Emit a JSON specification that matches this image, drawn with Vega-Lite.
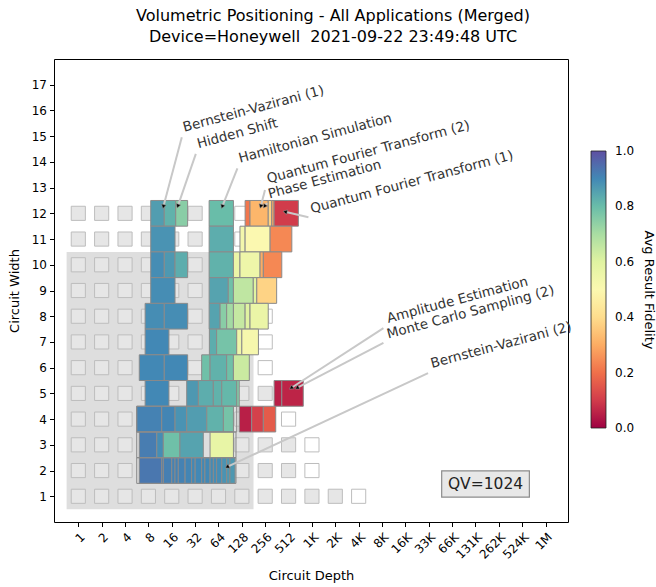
{
  "$schema": "https://vega.github.io/schema/vega-lite/v6.json",
  "width": 514,
  "height": 463,
  "autosize": {"type": "none"},
  "padding": {"left": 54, "top": 59, "right": 88, "bottom": 65},
  "background": "white",
  "config": {
    "font": "DejaVu Sans",
    "view": {"stroke": "#000000", "strokeWidth": 1},
    "scale": {"continuousPadding": 0},
    "axis": {"grid": false, "domain": false, "tickColor": "#000000", "tickSize": 4.5, "labelColor": "#000000", "labelFontSize": 12, "titleFontSize": 13, "titleFontWeight": "normal", "titleColor": "#000000", "labelOverlap": false, "labelFlush": false},
    "legend": {"labelFontSize": 12, "labelColor": "#000000", "titleFontSize": 13, "titleFontWeight": "normal", "titleColor": "#000000"}
  },
  "title": {
    "text": ["Volumetric Positioning - All Applications (Merged)", "Device=Honeywell \u00a02021-09-22 23:49:48 UTC"],
    "fontSize": 16,
    "fontWeight": "normal",
    "color": "#000000",
    "anchor": "middle",
    "dx": 22,
    "offset": 14,
    "lineHeight": 21
  },
  "datasets": {
    "squares": [
      {"d":0,"w":1,"k":"g"},{"d":1,"w":1,"k":"g"},{"d":2,"w":1,"k":"g"},{"d":3,"w":1,"k":"g"},{"d":4,"w":1,"k":"g"},{"d":5,"w":1,"k":"g"},{"d":6,"w":1,"k":"g"},{"d":7,"w":1,"k":"g"},{"d":8,"w":1,"k":"g"},{"d":9,"w":1,"k":"g"},{"d":10,"w":1,"k":"g"},{"d":11,"w":1,"k":"g"},{"d":12,"w":1,"k":"w"},
      {"d":0,"w":2,"k":"g"},{"d":1,"w":2,"k":"g"},{"d":2,"w":2,"k":"g"},{"d":3,"w":2,"k":"g"},{"d":4,"w":2,"k":"g"},{"d":5,"w":2,"k":"g"},{"d":6,"w":2,"k":"g"},{"d":7,"w":2,"k":"g"},{"d":8,"w":2,"k":"g"},{"d":9,"w":2,"k":"g"},{"d":10,"w":2,"k":"w"},
      {"d":0,"w":3,"k":"g"},{"d":1,"w":3,"k":"g"},{"d":2,"w":3,"k":"g"},{"d":3,"w":3,"k":"g"},{"d":4,"w":3,"k":"g"},{"d":5,"w":3,"k":"g"},{"d":6,"w":3,"k":"g"},{"d":7,"w":3,"k":"g"},{"d":8,"w":3,"k":"g"},{"d":9,"w":3,"k":"g"},{"d":10,"w":3,"k":"w"},
      {"d":0,"w":4,"k":"g"},{"d":1,"w":4,"k":"g"},{"d":2,"w":4,"k":"g"},{"d":3,"w":4,"k":"g"},{"d":4,"w":4,"k":"g"},{"d":5,"w":4,"k":"g"},{"d":6,"w":4,"k":"g"},{"d":7,"w":4,"k":"g"},{"d":8,"w":4,"k":"g"},{"d":9,"w":4,"k":"w"},
      {"d":0,"w":5,"k":"g"},{"d":1,"w":5,"k":"g"},{"d":2,"w":5,"k":"g"},{"d":3,"w":5,"k":"g"},{"d":4,"w":5,"k":"g"},{"d":5,"w":5,"k":"g"},{"d":6,"w":5,"k":"g"},{"d":7,"w":5,"k":"g"},{"d":8,"w":5,"k":"g"},{"d":9,"w":5,"k":"w"},
      {"d":0,"w":6,"k":"g"},{"d":1,"w":6,"k":"g"},{"d":2,"w":6,"k":"g"},{"d":3,"w":6,"k":"g"},{"d":4,"w":6,"k":"g"},{"d":5,"w":6,"k":"g"},{"d":6,"w":6,"k":"g"},{"d":7,"w":6,"k":"g"},{"d":8,"w":6,"k":"w"},
      {"d":0,"w":7,"k":"g"},{"d":1,"w":7,"k":"g"},{"d":2,"w":7,"k":"g"},{"d":3,"w":7,"k":"g"},{"d":4,"w":7,"k":"g"},{"d":5,"w":7,"k":"g"},{"d":6,"w":7,"k":"g"},{"d":7,"w":7,"k":"g"},{"d":8,"w":7,"k":"w"},
      {"d":0,"w":8,"k":"g"},{"d":1,"w":8,"k":"g"},{"d":2,"w":8,"k":"g"},{"d":3,"w":8,"k":"g"},{"d":4,"w":8,"k":"g"},{"d":5,"w":8,"k":"g"},{"d":6,"w":8,"k":"g"},{"d":7,"w":8,"k":"g"},{"d":8,"w":8,"k":"w"},
      {"d":0,"w":9,"k":"g"},{"d":1,"w":9,"k":"g"},{"d":2,"w":9,"k":"g"},{"d":3,"w":9,"k":"g"},{"d":4,"w":9,"k":"g"},{"d":5,"w":9,"k":"g"},{"d":6,"w":9,"k":"g"},{"d":7,"w":9,"k":"w"},
      {"d":0,"w":10,"k":"g"},{"d":1,"w":10,"k":"g"},{"d":2,"w":10,"k":"g"},{"d":3,"w":10,"k":"g"},{"d":4,"w":10,"k":"g"},{"d":5,"w":10,"k":"g"},{"d":6,"w":10,"k":"g"},{"d":7,"w":10,"k":"w"},
      {"d":0,"w":11,"k":"g"},{"d":1,"w":11,"k":"g"},{"d":2,"w":11,"k":"g"},{"d":3,"w":11,"k":"g"},{"d":4,"w":11,"k":"g"},{"d":5,"w":11,"k":"g"},{"d":6,"w":11,"k":"g"},{"d":7,"w":11,"k":"w"},
      {"d":0,"w":12,"k":"g"},{"d":1,"w":12,"k":"g"},{"d":2,"w":12,"k":"g"},{"d":3,"w":12,"k":"g"},{"d":4,"w":12,"k":"g"},{"d":5,"w":12,"k":"g"},{"d":6,"w":12,"k":"g"},{"d":7,"w":12,"k":"w"}
    ],
    "cells": [
      {"x1":3.10,"x2":3.68,"w":12,"f":0.86},{"x1":3.68,"x2":4.17,"w":12,"f":0.82},{"x1":4.17,"x2":4.68,"w":12,"f":0.75},{"x1":5.60,"x2":6.64,"w":12,"f":0.80},{"x1":7.14,"x2":7.35,"w":12,"f":0.21},{"x1":7.35,"x2":8.13,"w":12,"f":0.32},{"x1":8.13,"x2":8.28,"w":12,"f":0.38},{"x1":8.28,"x2":8.38,"w":12,"f":0.29},{"x1":8.38,"x2":9.42,"w":12,"f":0.10},
      {"x1":3.10,"x2":4.14,"w":11,"f":0.88},{"x1":5.60,"x2":6.64,"w":11,"f":0.83},{"x1":6.92,"x2":7.14,"w":11,"f":0.53},{"x1":7.14,"x2":8.21,"w":11,"f":0.50},{"x1":8.21,"x2":9.14,"w":11,"f":0.24},
      {"x1":3.10,"x2":3.68,"w":10,"f":0.89},{"x1":3.68,"x2":4.14,"w":10,"f":0.87},{"x1":4.14,"x2":4.68,"w":10,"f":0.83},{"x1":5.60,"x2":6.64,"w":10,"f":0.82},{"x1":6.64,"x2":6.92,"w":10,"f":0.56},{"x1":6.92,"x2":7.78,"w":10,"f":0.55},{"x1":7.78,"x2":7.92,"w":10,"f":0.30},{"x1":7.92,"x2":8.71,"w":10,"f":0.24},
      {"x1":3.10,"x2":4.14,"w":9,"f":0.89},{"x1":5.60,"x2":6.42,"w":9,"f":0.85},{"x1":6.42,"x2":6.64,"w":9,"f":0.79},{"x1":6.64,"x2":7.49,"w":9,"f":0.66},{"x1":7.49,"x2":7.64,"w":9,"f":0.60},{"x1":7.64,"x2":8.49,"w":9,"f":0.38},
      {"x1":2.86,"x2":3.68,"w":8,"f":0.89},{"x1":3.68,"x2":4.68,"w":8,"f":0.89},{"x1":5.60,"x2":6.07,"w":8,"f":0.85},{"x1":6.07,"x2":6.35,"w":8,"f":0.75},{"x1":6.35,"x2":6.64,"w":8,"f":0.71},{"x1":6.64,"x2":7.14,"w":8,"f":0.65},{"x1":7.14,"x2":7.35,"w":8,"f":0.60},{"x1":7.35,"x2":8.13,"w":8,"f":0.56},
      {"x1":2.86,"x2":3.88,"w":7,"f":0.90},{"x1":5.61,"x2":5.92,"w":7,"f":0.83},{"x1":5.92,"x2":6.78,"w":7,"f":0.78},{"x1":6.78,"x2":7.00,"w":7,"f":0.55},{"x1":7.00,"x2":7.71,"w":7,"f":0.52},
      {"x1":2.61,"x2":3.68,"w":6,"f":0.90},{"x1":3.68,"x2":4.68,"w":6,"f":0.90},{"x1":5.28,"x2":5.64,"w":6,"f":0.79},{"x1":5.64,"x2":6.35,"w":6,"f":0.82},{"x1":6.35,"x2":6.64,"w":6,"f":0.79},{"x1":6.64,"x2":7.32,"w":6,"f":0.64},
      {"x1":2.86,"x2":3.88,"w":5,"f":0.90},{"x1":4.64,"x2":5.14,"w":5,"f":0.87},{"x1":5.14,"x2":5.78,"w":5,"f":0.83},{"x1":5.78,"x2":6.14,"w":5,"f":0.82},{"x1":6.14,"x2":6.78,"w":5,"f":0.81},{"x1":6.78,"x2":6.89,"w":5,"f":0.76},{"x1":8.38,"x2":8.71,"w":5,"f":0.05},{"x1":8.71,"x2":9.63,"w":5,"f":0.06},
      {"x1":2.50,"x2":3.57,"w":4,"f":0.91},{"x1":3.57,"x2":4.14,"w":4,"f":0.905},{"x1":4.14,"x2":4.64,"w":4,"f":0.88},{"x1":4.64,"x2":5.50,"w":4,"f":0.86},{"x1":5.50,"x2":6.21,"w":4,"f":0.82},{"x1":6.21,"x2":6.64,"w":4,"f":0.78},{"x1":6.89,"x2":7.42,"w":4,"f":0.05},{"x1":7.42,"x2":7.92,"w":4,"f":0.11},{"x1":7.92,"x2":8.45,"w":4,"f":0.16},
      {"x1":2.61,"x2":3.36,"w":3,"f":0.92},{"x1":3.36,"x2":3.64,"w":3,"f":0.89},{"x1":3.64,"x2":4.35,"w":3,"f":0.79},{"x1":4.35,"x2":5.35,"w":3,"f":0.85},{"x1":5.64,"x2":6.64,"w":3,"f":0.57},
      {"x1":2.61,"x2":3.57,"w":2,"f":0.93},{"x1":3.57,"x2":3.64,"w":2,"f":0.92},{"x1":3.64,"x2":4.00,"w":2,"f":0.915},{"x1":4.00,"x2":4.14,"w":2,"f":0.91},{"x1":4.14,"x2":4.28,"w":2,"f":0.91},{"x1":4.28,"x2":4.57,"w":2,"f":0.91},{"x1":4.57,"x2":4.85,"w":2,"f":0.905},{"x1":4.85,"x2":5.00,"w":2,"f":0.90},{"x1":5.00,"x2":5.28,"w":2,"f":0.90},{"x1":5.28,"x2":5.42,"w":2,"f":0.90},{"x1":5.42,"x2":5.64,"w":2,"f":0.90},{"x1":5.64,"x2":5.78,"w":2,"f":0.895},{"x1":5.78,"x2":5.92,"w":2,"f":0.89},{"x1":5.92,"x2":6.14,"w":2,"f":0.89},{"x1":6.14,"x2":6.35,"w":2,"f":0.88},{"x1":6.35,"x2":6.49,"w":2,"f":0.87},{"x1":6.49,"x2":6.71,"w":2,"f":0.87}
    ],
    "outlines": [
      {"x1":2.50,"x2":6.75,"w":2},{"x1":2.50,"x2":6.75,"w":3},{"x1":2.50,"x2":6.78,"w":4}
    ],
    "notes": [
      {"t":"Bernstein-Vazirani (1)","tx":4.54,"ty":15.17,"lx":4.43,"ly":14.96,"ax":3.64,"ay":12.26,"a":195},
      {"t":"Hidden Shift","tx":5.14,"ty":14.53,"lx":5.03,"ly":14.31,"ax":4.26,"ay":12.28,"a":199},
      {"t":"Hamiltonian Simulation","tx":6.92,"ty":13.97,"lx":6.81,"ly":13.75,"ax":6.16,"ay":12.26,"a":201},
      {"t":"Quantum Fourier Transform (2)","tx":8.13,"ty":13.17,"lx":7.99,"ly":12.91,"ax":7.81,"ay":12.27,"a":195},
      {"t":"Phase Estimation","tx":8.18,"ty":12.58,"lx":8.08,"ly":12.40,"ax":7.97,"ay":12.27,"a":215},
      {"t":"Quantum Fourier Transform (1)","tx":9.99,"ty":12.0,"lx":9.85,"ly":11.85,"ax":8.85,"ay":12.06,"a":283},
      {"t":"Amplitude Estimation","tx":13.27,"ty":7.74,"lx":13.06,"ly":7.54,"ax":9.11,"ay":5.21,"a":237},
      {"t":"Monte Carlo Sampling (2)","tx":13.27,"ty":7.13,"lx":13.06,"ly":6.96,"ax":9.36,"ay":5.21,"a":242},
      {"t":"Bernstein-Vazirani (2)","tx":15.14,"ty":5.99,"lx":14.97,"ly":5.79,"ax":6.37,"ay":2.14,"a":245}
    ],
    "qvregion": [{"x1":-0.5,"x2":7.5,"y1":0.5,"y2":10.5}],
    "qvlabel": [{"x":17.43,"y":1.48,"t":"QV=1024"}]
  },
  "layer": [
    {
      "data": {"name": "qvregion"},
      "mark": {"type": "rect", "fill": "#dedede"},
      "encoding": {
        "x": {"field": "x1", "type": "quantitative", "scale": {"domain": [-1.04, 20.96], "nice": false, "zero": false, "padding": 0},
              "axis": {"values": [0,1,2,3,4,5,6,7,8,9,10,11,12,13,14,15,16,17,18,19,20], "title": "Circuit Depth", "labelAngle": -45, "labelAlign": "right", "labelBaseline": "middle", "labelPadding": 8, "labelOffset": 4, "titlePadding": 9,
                       "labelExpr": "['1','2','4','8','16','32','64','128','256','512','1K','2K','4K','8K','16K','33K','66K','131K','262K','524K','1M'][datum.value]"}},
        "x2": {"field": "x2"},
        "y": {"field": "y1", "type": "quantitative", "scale": {"domain": [0, 18], "nice": false, "zero": false, "padding": 0},
              "axis": {"values": [1,2,3,4,5,6,7,8,9,10,11,12,13,14,15,16,17], "title": "Circuit Width", "labelPadding": 3, "titlePadding": 10}},
        "y2": {"field": "y2"}
      }
    },
    {
      "data": {"name": "squares"},
      "mark": {"type": "point", "shape": "square", "size": 200, "filled": true, "opacity": 1, "stroke": "#bdbdbd", "strokeWidth": 1},
      "encoding": {
        "x": {"field": "d", "type": "quantitative", "scale": {"domain": [-1.04, 20.96], "nice": false, "zero": false, "padding": 0},
              "axis": {"values": [0,1,2,3,4,5,6,7,8,9,10,11,12,13,14,15,16,17,18,19,20], "title": "Circuit Depth", "labelAngle": -45, "labelAlign": "right", "labelBaseline": "middle", "labelPadding": 8, "labelOffset": 4, "titlePadding": 9,
                       "labelExpr": "['1','2','4','8','16','32','64','128','256','512','1K','2K','4K','8K','16K','33K','66K','131K','262K','524K','1M'][datum.value]"}},
        "y": {"field": "w", "type": "quantitative", "scale": {"domain": [0, 18], "nice": false, "zero": false, "padding": 0},
              "axis": {"values": [1,2,3,4,5,6,7,8,9,10,11,12,13,14,15,16,17], "title": "Circuit Width", "labelPadding": 3, "titlePadding": 10}},
        "fill": {"field": "k", "type": "nominal", "scale": {"domain": ["g", "w"], "range": ["#e6e6e6", "#ffffff"]}, "legend": null}
      }
    },
    {
      "data": {"name": "cells"},
      "mark": {"type": "bar", "height": 25.7, "stroke": "#8a8a8a", "strokeWidth": 1, "opacity": 1},
      "encoding": {
        "x": {"field": "x1", "type": "quantitative", "scale": {"domain": [-1.04, 20.96], "nice": false, "zero": false, "padding": 0},
              "axis": {"values": [0,1,2,3,4,5,6,7,8,9,10,11,12,13,14,15,16,17,18,19,20], "title": "Circuit Depth", "labelAngle": -45, "labelAlign": "right", "labelBaseline": "middle", "labelPadding": 8, "labelOffset": 4, "titlePadding": 9,
                       "labelExpr": "['1','2','4','8','16','32','64','128','256','512','1K','2K','4K','8K','16K','33K','66K','131K','262K','524K','1M'][datum.value]"}},
        "x2": {"field": "x2"},
        "y": {"field": "w", "type": "quantitative", "scale": {"domain": [0, 18], "nice": false, "zero": false, "padding": 0},
              "axis": {"values": [1,2,3,4,5,6,7,8,9,10,11,12,13,14,15,16,17], "title": "Circuit Width", "labelPadding": 3, "titlePadding": 10}},
        "color": {"field": "f", "type": "quantitative", "scale": {"scheme": "spectral", "domain": [0, 1]},
                  "legend": {"orient": "none", "legendX": 537, "legendY": 92, "direction": "vertical", "gradientLength": 277, "gradientThickness": 15,
                             "title": "Avg Result Fidelity", "titleOrient": "right", "titleAngle": 90, "titleAnchor": "middle", "titlePadding": 8,
                             "values": [0.0001, 0.2, 0.4, 0.6, 0.8, 0.9999], "format": ".1f", "labelOffset": 9, "gradientStrokeColor": "#222222", "gradientStrokeWidth": 0.8}}
      }
    },
    {
      "data": {"name": "outlines"},
      "mark": {"type": "bar", "height": 25.7, "filled": false, "stroke": "#8a8a8a", "strokeWidth": 1},
      "encoding": {
        "x": {"field": "x1", "type": "quantitative", "scale": {"domain": [-1.04, 20.96], "nice": false, "zero": false, "padding": 0},
              "axis": {"values": [0,1,2,3,4,5,6,7,8,9,10,11,12,13,14,15,16,17,18,19,20], "title": "Circuit Depth", "labelAngle": -45, "labelAlign": "right", "labelBaseline": "middle", "labelPadding": 8, "labelOffset": 4, "titlePadding": 9,
                       "labelExpr": "['1','2','4','8','16','32','64','128','256','512','1K','2K','4K','8K','16K','33K','66K','131K','262K','524K','1M'][datum.value]"}},
        "x2": {"field": "x2"},
        "y": {"field": "w", "type": "quantitative", "scale": {"domain": [0, 18], "nice": false, "zero": false, "padding": 0},
              "axis": {"values": [1,2,3,4,5,6,7,8,9,10,11,12,13,14,15,16,17], "title": "Circuit Width", "labelPadding": 3, "titlePadding": 10}}
      }
    },
    {
      "data": {"name": "notes"},
      "mark": {"type": "rule", "stroke": "#c8c8c8", "strokeWidth": 2},
      "encoding": {
        "x": {"field": "lx", "type": "quantitative", "scale": {"domain": [-1.04, 20.96], "nice": false, "zero": false, "padding": 0},
              "axis": {"values": [0,1,2,3,4,5,6,7,8,9,10,11,12,13,14,15,16,17,18,19,20], "title": "Circuit Depth", "labelAngle": -45, "labelAlign": "right", "labelBaseline": "middle", "labelPadding": 8, "labelOffset": 4, "titlePadding": 9,
                       "labelExpr": "['1','2','4','8','16','32','64','128','256','512','1K','2K','4K','8K','16K','33K','66K','131K','262K','524K','1M'][datum.value]"}},
        "y": {"field": "ly", "type": "quantitative", "scale": {"domain": [0, 18], "nice": false, "zero": false, "padding": 0},
              "axis": {"values": [1,2,3,4,5,6,7,8,9,10,11,12,13,14,15,16,17], "title": "Circuit Width", "labelPadding": 3, "titlePadding": 10}},
        "x2": {"field": "ax"},
        "y2": {"field": "ay"}
      }
    },
    {
      "data": {"name": "notes"},
      "mark": {"type": "point", "shape": "triangle-up", "size": 22, "filled": true, "fill": "#000000", "stroke": "#999999", "strokeWidth": 0.5, "opacity": 1},
      "encoding": {
        "x": {"field": "ax", "type": "quantitative", "scale": {"domain": [-1.04, 20.96], "nice": false, "zero": false, "padding": 0},
              "axis": {"values": [0,1,2,3,4,5,6,7,8,9,10,11,12,13,14,15,16,17,18,19,20], "title": "Circuit Depth", "labelAngle": -45, "labelAlign": "right", "labelBaseline": "middle", "labelPadding": 8, "labelOffset": 4, "titlePadding": 9,
                       "labelExpr": "['1','2','4','8','16','32','64','128','256','512','1K','2K','4K','8K','16K','33K','66K','131K','262K','524K','1M'][datum.value]"}},
        "y": {"field": "ay", "type": "quantitative", "scale": {"domain": [0, 18], "nice": false, "zero": false, "padding": 0},
              "axis": {"values": [1,2,3,4,5,6,7,8,9,10,11,12,13,14,15,16,17], "title": "Circuit Width", "labelPadding": 3, "titlePadding": 10}},
        "angle": {"field": "a", "type": "quantitative", "scale": null}
      }
    },
    {
      "data": {"name": "notes"},
      "mark": {"type": "text", "angle": -15, "align": "left", "baseline": "alphabetic", "fontSize": 13.5, "fill": "#333333"},
      "encoding": {
        "x": {"field": "tx", "type": "quantitative", "scale": {"domain": [-1.04, 20.96], "nice": false, "zero": false, "padding": 0},
              "axis": {"values": [0,1,2,3,4,5,6,7,8,9,10,11,12,13,14,15,16,17,18,19,20], "title": "Circuit Depth", "labelAngle": -45, "labelAlign": "right", "labelBaseline": "middle", "labelPadding": 8, "labelOffset": 4, "titlePadding": 9,
                       "labelExpr": "['1','2','4','8','16','32','64','128','256','512','1K','2K','4K','8K','16K','33K','66K','131K','262K','524K','1M'][datum.value]"}},
        "y": {"field": "ty", "type": "quantitative", "scale": {"domain": [0, 18], "nice": false, "zero": false, "padding": 0},
              "axis": {"values": [1,2,3,4,5,6,7,8,9,10,11,12,13,14,15,16,17], "title": "Circuit Width", "labelPadding": 3, "titlePadding": 10}},
        "text": {"field": "t"}
      }
    },
    {
      "data": {"name": "qvlabel"},
      "mark": {"type": "point", "shape": "M-1,-0.3H1V0.3H-1Z", "size": 7690, "filled": true, "fill": "#e8e8e8", "stroke": "#8c8c8c", "strokeWidth": 1.2, "opacity": 1},
      "encoding": {
        "x": {"field": "x", "type": "quantitative", "scale": {"domain": [-1.04, 20.96], "nice": false, "zero": false, "padding": 0},
              "axis": {"values": [0,1,2,3,4,5,6,7,8,9,10,11,12,13,14,15,16,17,18,19,20], "title": "Circuit Depth", "labelAngle": -45, "labelAlign": "right", "labelBaseline": "middle", "labelPadding": 8, "labelOffset": 4, "titlePadding": 9,
                       "labelExpr": "['1','2','4','8','16','32','64','128','256','512','1K','2K','4K','8K','16K','33K','66K','131K','262K','524K','1M'][datum.value]"}},
        "y": {"field": "y", "type": "quantitative", "scale": {"domain": [0, 18], "nice": false, "zero": false, "padding": 0},
              "axis": {"values": [1,2,3,4,5,6,7,8,9,10,11,12,13,14,15,16,17], "title": "Circuit Width", "labelPadding": 3, "titlePadding": 10}}
      }
    },
    {
      "data": {"name": "qvlabel"},
      "mark": {"type": "text", "fontSize": 15.5, "fill": "#222222", "align": "center", "baseline": "middle"},
      "encoding": {
        "x": {"field": "x", "type": "quantitative", "scale": {"domain": [-1.04, 20.96], "nice": false, "zero": false, "padding": 0},
              "axis": {"values": [0,1,2,3,4,5,6,7,8,9,10,11,12,13,14,15,16,17,18,19,20], "title": "Circuit Depth", "labelAngle": -45, "labelAlign": "right", "labelBaseline": "middle", "labelPadding": 8, "labelOffset": 4, "titlePadding": 9,
                       "labelExpr": "['1','2','4','8','16','32','64','128','256','512','1K','2K','4K','8K','16K','33K','66K','131K','262K','524K','1M'][datum.value]"}},
        "y": {"field": "y", "type": "quantitative", "scale": {"domain": [0, 18], "nice": false, "zero": false, "padding": 0},
              "axis": {"values": [1,2,3,4,5,6,7,8,9,10,11,12,13,14,15,16,17], "title": "Circuit Width", "labelPadding": 3, "titlePadding": 10}},
        "text": {"field": "t"}
      }
    }
  ]
}
